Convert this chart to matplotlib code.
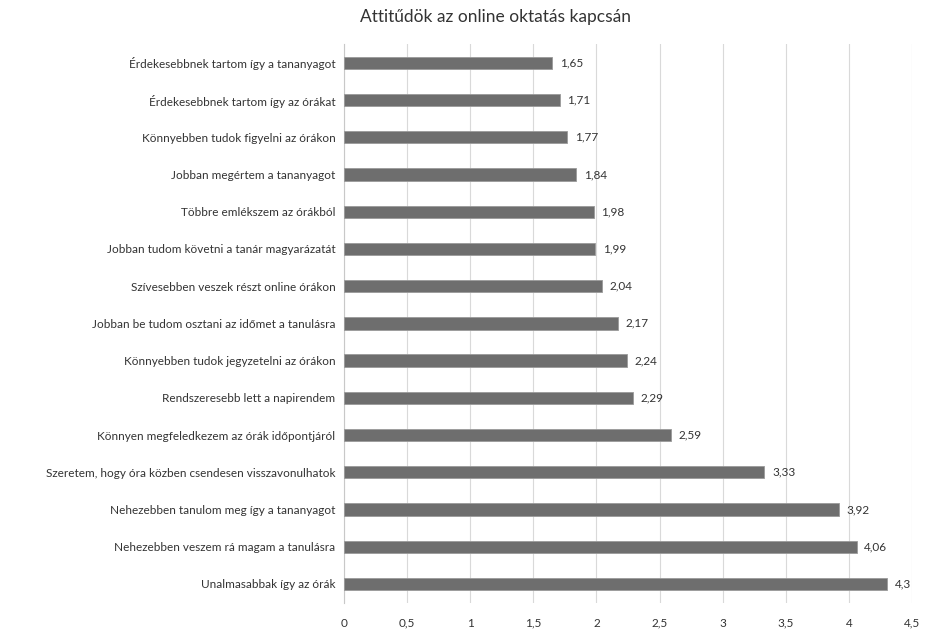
import matplotlib
matplotlib.use('Agg')
import matplotlib.pyplot as plt
import numpy as np

plt.rcParams['font.family'] = ['Lato', 'DejaVu Sans']

allitasok = [
    "Érdekesebbnek tartom így a tananyagot",
    "Érdekesebbnek tartom így az órákat",
    "Könnyebben tudok figyelni az órákon",
    "Jobban megértem a tananyagot",
    "Többre emlékszem az órákból",
    "Jobban tudom követni a tanár magyarázatát",
    "Szívesebben veszek részt online órákon",
    "Jobban be tudom osztani az időmet a tanulásra",
    "Könnyebben tudok jegyzetelni az órákon",
    "Rendszeresebb lett a napirendem",
    "Könnyen megfeledkezem az órák időpontjáról",
    "Szeretem, hogy óra közben csendesen visszavonulhatok",
    "Nehezebben tanulom meg így a tananyagot",
    "Nehezebben veszem rá magam a tanulásra",
    "Unalmasabbak így az órák",
]
atlag = [1.65, 1.71, 1.77, 1.84, 1.98, 1.99, 2.04, 2.17, 2.24, 2.29, 2.59, 3.33, 3.92, 4.06, 4.3]
xtick = [0, 0.5, 1, 1.5, 2, 2.5, 3, 3.5, 4, 4.5]

fig = plt.figure(figsize=(9.27, 6.31), dpi=100)
ax = fig.add_axes([0.371, 0.045, 0.613, 0.885])

y = np.arange(len(allitasok))
ax.barh(y, atlag, height=0.33, color='#6e6e6e', edgecolor='#9a9a9a', linewidth=0.6, zorder=3)
for yi, v in zip(y, atlag):
    ax.text(v + 0.06, yi, f"{v:g}".replace('.', ','), va='center', ha='left', fontsize=8.5, color='#333333')

ax.set_yticks(y)
ax.set_yticklabels(allitasok, fontsize=8.5, color='#333333')
ax.set_ylim(len(allitasok) - 0.5, -0.5)
ax.set_xlim(0, 4.5)
ax.set_xticks(xtick)
ax.set_xticklabels([f"{t:g}".replace('.', ',') for t in xtick], fontsize=8.5, color='#333333')
ax.tick_params(axis='both', length=0)
ax.tick_params(axis='x', pad=11)
ax.tick_params(axis='y', pad=6)
ax.grid(axis='x', color='#d9d9d9', linewidth=0.8, zorder=0)
for s in ['top', 'right', 'bottom']:
    ax.spines[s].set_visible(False)
ax.spines['left'].set_color('#c8c8c8')

fig.suptitle("Attitűdök az online oktatás kapcsán", x=0.535, y=0.985, fontsize=12.5, color='#333333')

fig.savefig('out.png', dpi=100)
